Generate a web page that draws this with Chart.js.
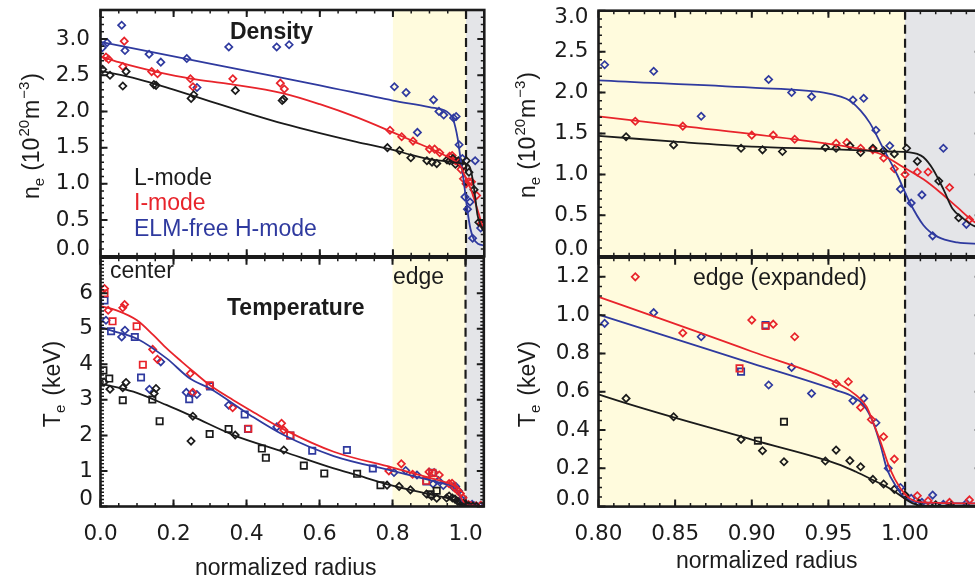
<!DOCTYPE html>
<html><head><meta charset="utf-8">
<script src="https://cdn.jsdelivr.net/npm/chart.js@4.4.1/dist/chart.umd.min.js"></script>
<style>
html,body{margin:0;padding:0;background:#fff;overflow:hidden;width:975px;height:579px;position:relative;}
canvas{position:absolute;}
</style></head><body>
<canvas id="tl" style="left:0px;top:0px;width:490px;height:262px" width="490" height="262"></canvas>
<canvas id="tr" style="left:490px;top:0px;width:500px;height:262px" width="500" height="262"></canvas>
<canvas id="bl" style="left:0px;top:250px;width:490px;height:329px" width="490" height="329"></canvas>
<canvas id="br" style="left:490px;top:250px;width:500px;height:329px" width="500" height="329"></canvas>
<script>
// ---------- DATA ----------
// Density, L-mode (black diamonds)
const denL_r = [0.006,0.026,0.061,0.070,0.146,0.152,0.248,0.255,0.369,0.497,0.501,0.785,0.818,0.849,0.893,0.907,0.920,0.948,0.955,0.964,0.971,0.979,0.986,0.993,1.001,1.008,1.022,1.035];
const denL_n = [2.58,2.50,2.35,2.55,2.37,2.36,2.18,2.23,2.29,2.15,2.17,1.50,1.46,1.36,1.32,1.30,1.28,1.33,1.32,1.35,1.27,1.32,1.29,1.25,1.32,1.16,0.92,0.47];
// Density, I-mode (red diamonds)
const denI_r = [0.015,0.022,0.061,0.065,0.140,0.156,0.246,0.253,0.362,0.492,0.503,0.792,0.824,0.855,0.900,0.914,0.928,0.955,0.962,0.971,0.979,0.986,0.993,1.000,1.008,1.015,1.029,1.042];
const denI_n = [2.75,2.72,2.62,2.97,2.55,2.52,2.45,2.34,2.45,2.39,2.31,1.74,1.65,1.59,1.48,1.48,1.43,1.38,1.39,1.32,1.30,1.20,1.07,1.00,1.03,1.03,0.84,0.45];
// Density, ELM-free H-mode (blue diamonds)
const denH_r = [0.005,0.018,0.058,0.067,0.133,0.165,0.236,0.264,0.351,0.482,0.516,0.804,0.836,0.867,0.911,0.926,0.939,0.966,0.973,0.981,0.990,0.997,1.004,1.011,1.018,1.025,1.040];
const denH_n = [2.88,2.95,3.19,2.84,2.79,2.68,2.73,2.33,2.89,2.89,2.92,2.34,2.26,1.71,2.16,2.00,1.95,1.91,1.93,1.54,1.35,0.82,0.65,0.75,0.25,1.32,0.39];
// Density fits
const denFitL_r = [0,0.1,0.2,0.3,0.4,0.5,0.6,0.7,0.8,0.85,0.9,0.95,0.99,1.003,1.008,1.012,1.018,1.025,1.031,1.038,1.044,1.05];
const denFitL_n = [2.56,2.45,2.30,2.14,1.98,1.83,1.70,1.58,1.47,1.40,1.34,1.31,1.28,1.27,1.25,1.21,1.07,0.82,0.58,0.46,0.38,0.34];
const denFitI_r = [0,0.05,0.1,0.15,0.25,0.35,0.5,0.6,0.7,0.8,0.855,0.927,0.968,0.984,0.997,1.012,1.023,1.034,1.046,1.05];
const denFitI_n = [2.76,2.68,2.61,2.55,2.45,2.38,2.25,2.10,1.92,1.71,1.59,1.43,1.32,1.25,1.11,0.94,0.78,0.60,0.41,0.38];
const denFitH_r = [0,0.2,0.4,0.6,0.8,0.9,0.947,0.958,0.964,0.971,0.977,0.986,0.995,1.003,1.012,1.021,1.034,1.05];
const denFitH_n = [2.96,2.76,2.56,2.36,2.15,2.06,2.00,1.95,1.90,1.78,1.63,1.31,0.99,0.66,0.38,0.24,0.17,0.15];

// Temperature, L-mode
const tL_r = [0.010,0.026,0.061,0.070,0.147,0.152,0.248,0.253,0.369,0.502,0.785,0.818,0.849,0.893,0.907,0.921,0.948,0.955,0.964,0.971,0.979,0.986,0.993,1.000,1.009,1.020,1.030];
const tL_T = [3.50,3.30,3.34,3.49,3.18,3.32,1.84,2.54,2.01,1.59,0.60,0.565,0.469,0.351,0.292,0.234,0.238,0.295,0.240,0.208,0.142,0.118,0.090,0.060,0.017,0.010,0.005];
const tLsq_r = [0.008,0.024,0.061,0.142,0.162,0.299,0.351,0.442,0.453,0.557,0.613,0.703,0.767,0.904,0.921];
const tLsq_T = [3.83,3.60,2.99,3.01,2.40,2.04,2.18,1.63,1.37,1.15,0.93,0.92,0.60,0.344,0.443];
// Temperature, I-mode
const tI_r = [0.011,0.021,0.061,0.066,0.143,0.156,0.246,0.253,0.362,0.496,0.502,0.790,0.824,0.855,0.900,0.914,0.928,0.955,0.963,0.971,0.978,0.986,0.993,1.000,1.008,1.015,1.029,1.042];
const tI_T = [6.13,5.52,5.59,5.68,4.42,4.14,3.74,3.21,2.78,2.34,2.15,1.00,1.20,0.907,0.974,0.953,0.887,0.643,0.652,0.518,0.455,0.365,0.248,0.057,0.057,0.030,0.022,0.035];
const tIsq_r = [0.011,0.033,0.099,0.116,0.299,0.405,0.520,0.892,0.909];
const tIsq_T = [6.00,5.21,5.07,3.99,3.41,2.19,2.00,0.722,0.943];
// Temperature, ELM-free H-mode
const tH_r = [0.015,0.058,0.067,0.134,0.165,0.235,0.250,0.264,0.351,0.483,0.804,0.836,0.867,0.911,0.926,0.939,0.966,0.973,0.981,0.989,0.997,1.004,1.011,1.018,1.025,1.040];
const tH_T = [5.24,4.77,4.96,3.30,4.07,3.21,3.18,3.15,2.85,2.24,0.957,1.013,0.887,0.635,0.727,0.591,0.553,0.565,0.438,0.200,0.100,0.043,0.022,0.060,0.012,0.017];
const tHsq_r = [0.011,0.029,0.094,0.111,0.243,0.300,0.395,0.404,0.520,0.580,0.675,0.746,0.893,0.909];
const tHsq_T = [5.80,4.93,4.77,3.63,3.02,3.38,2.59,2.18,2.00,1.57,1.59,1.07,0.705,0.948];
// Temperature fits
const tFitL_r = [0,0.09,0.182,0.255,0.364,0.502,0.639,0.703,0.8,0.9,0.958,0.968,0.979,0.99,0.998,1.005,1.012,1.05];
const tFitL_T = [3.46,3.23,2.85,2.52,2.01,1.54,1.07,0.88,0.586,0.35,0.217,0.182,0.139,0.095,0.052,0.017,0.005,0.005];
const tFitI_r = [0,0.044,0.1,0.145,0.182,0.223,0.255,0.3,0.364,0.41,0.502,0.639,0.8,0.9,0.958,0.968,0.975,0.979,0.984,0.99,0.997,1.003,1.012,1.05];
const tFitI_T = [5.64,5.52,5.24,4.82,4.44,4.07,3.79,3.41,2.99,2.71,2.17,1.54,1.095,0.81,0.635,0.582,0.52,0.443,0.339,0.2,0.095,0.043,0.022,0.017];
const tFitH_r = [0,0.026,0.1,0.182,0.245,0.3,0.41,0.502,0.639,0.8,0.9,0.955,0.966,0.973,0.979,0.984,0.988,0.995,1.0,1.009,1.05];
const tFitH_T = [5.05,4.96,4.72,4.16,3.60,3.32,2.57,2.01,1.42,1.003,0.748,0.608,0.574,0.53,0.443,0.321,0.2,0.095,0.043,0.022,0.017];

// Tick labels
const radTicks = [0.0,0.2,0.4,0.6,0.8,1.0];
const edgeRadTicks = [0.80,0.85,0.90,0.95,1.00];
const denTicks = [0.0,0.5,1.0,1.5,2.0,2.5,3.0];
const tempTicks = [0,1,2,3,4,5,6];
const edgeTempTicks = [0.0,0.2,0.4,0.6,0.8,1.0,1.2];

// ---------- STYLE ----------
const BLACK = '#1b1b1b', RED = '#e8242b', BLUE = '#2f3a9f';
const YELLOW = '#fffbdd', GREY = '#e4e5e8';
const TICKFONT = '21.5px "DejaVu Sans"';
const TEXTFONT = '23px "Liberation Sans", Arial, sans-serif';
const BOLDFONT = 'bold 23px "Liberation Sans", Arial, sans-serif';

function pts(xs, ys) { return xs.map((v, i) => ({x: v, y: ys[i]})); }
function diamonds(xs, ys, c) {
  return {data: pts(xs, ys), showLine: false, pointStyle: 'rectRot', pointRadius: 3.6,
    pointBorderWidth: 1.7, pointBorderColor: c, pointBackgroundColor: 'rgba(0,0,0,0)', borderColor: c};
}
function squares(xs, ys, c) {
  return {data: pts(xs, ys), showLine: false, pointStyle: 'rect', pointRadius: 4.5,
    pointBorderWidth: 1.7, pointBorderColor: c, pointBackgroundColor: 'rgba(0,0,0,0)', borderColor: c};
}
function fit(xs, ys, c) {
  return {data: pts(xs, ys), showLine: true, pointRadius: 0, borderColor: c, borderWidth: 1.8,
    cubicInterpolationMode: 'monotone', fill: false};
}

function drawRichVertical(ctx, parts, bx, cy) {
  ctx.save();
  ctx.translate(bx, cy);
  ctx.rotate(-Math.PI / 2);
  let total = 0;
  const w = parts.map(p => { ctx.font = p.font; const m = ctx.measureText(p.t).width + (p.gap || 0); total += m; return m; });
  let x = -total / 2;
  ctx.textBaseline = 'alphabetic'; ctx.textAlign = 'left'; ctx.fillStyle = BLACK;
  parts.forEach((p, i) => { ctx.font = p.font; ctx.fillText(p.t, x, p.dy || 0); x += w[i]; });
  ctx.restore();
}

const framePlugin = {
  id: 'frame',
  beforeDatasetsDraw(chart, args, o) {
    const {ctx, chartArea: a} = chart; const xs = chart.scales.x;
    ctx.save();
    o.bands.forEach(b => {
      const x0 = Math.max(a.left, xs.getPixelForValue(b.from));
      const x1 = Math.min(a.right, xs.getPixelForValue(b.to));
      ctx.fillStyle = b.color; ctx.fillRect(x0, a.top, x1 - x0, a.bottom - a.top);
    });
    const xd = xs.getPixelForValue(o.dashAt);
    ctx.strokeStyle = BLACK; ctx.lineWidth = 2.2; ctx.setLineDash([9, 5]);
    ctx.beginPath(); ctx.moveTo(xd, a.top); ctx.lineTo(xd, a.bottom); ctx.stroke();
    ctx.restore();
  },
  afterDraw(chart, args, o) {
    const {ctx, chartArea: a} = chart; const xs = chart.scales.x, ys = chart.scales.y;
    ctx.save();
    ctx.strokeStyle = BLACK; ctx.lineWidth = 1.5;
    const minor = (sc, step, horiz) => {
      const n = Math.round((sc.max - sc.min) / step);
      for (let i = 1; i < n; i++) {
        const v = sc.min + i * step; const p = sc.getPixelForValue(v);
        ctx.beginPath();
        if (horiz) { ctx.moveTo(p, a.bottom); ctx.lineTo(p, a.bottom - 3.5); ctx.moveTo(p, a.top); ctx.lineTo(p, a.top + 3.5); }
        else { ctx.moveTo(a.left, p); ctx.lineTo(a.left + 3.5, p); ctx.moveTo(a.right, p); ctx.lineTo(a.right - 3.5, p); }
        ctx.stroke();
      }
    };
    minor(xs, o.xMinor, true); minor(ys, o.yMinor, false);
    ctx.lineWidth = 2;
    xs.ticks.forEach(t => { const p = xs.getPixelForValue(t.value); ctx.beginPath(); ctx.moveTo(p, a.bottom); ctx.lineTo(p, a.bottom - 7); ctx.moveTo(p, a.top); ctx.lineTo(p, a.top + 7); ctx.stroke(); });
    ys.ticks.forEach(t => { const p = ys.getPixelForValue(t.value); ctx.beginPath(); ctx.moveTo(a.left, p); ctx.lineTo(a.left + 7, p); ctx.moveTo(a.right, p); ctx.lineTo(a.right - 7, p); ctx.stroke(); });
    ctx.lineWidth = 2.6; ctx.strokeRect(a.left, a.top, a.right - a.left, a.bottom - a.top);
    ctx.fillStyle = BLACK; ctx.font = TICKFONT;
    ctx.textAlign = 'right'; ctx.textBaseline = 'middle';
    ys.ticks.forEach(t => {
      let p = ys.getPixelForValue(t.value);
      p = Math.min(Math.max(p, a.top + 6.5), a.bottom - 7);
      ctx.fillText(t.value.toFixed(o.yDec), o.yLabelRight, p);
    });
    if (o.xLabels) {
      ctx.textAlign = 'center';
      xs.ticks.forEach(t => { ctx.fillText(t.value.toFixed(o.xDec), xs.getPixelForValue(t.value), o.xLabelY); });
    }
    (o.texts || []).forEach(s => {
      ctx.font = s.font; ctx.fillStyle = s.color || BLACK; ctx.textAlign = s.align || 'left'; ctx.textBaseline = 'alphabetic';
      ctx.fillText(s.t, s.x, s.y);
    });
    drawRichVertical(ctx, o.yTitle.parts, o.yTitle.bx, o.yTitle.cy);
    ctx.restore();
  }
};

const neTitle = [
  {t: 'n', font: '23px "Liberation Sans"'},
  {t: 'e', font: '15px "Liberation Sans"', dy: 5, gap: 7},
  {t: '(10', font: '23px "Liberation Sans"', gap: 1},
  {t: '20', font: '15px "Liberation Sans"', dy: -10, gap: 1},
  {t: 'm', font: '23px "Liberation Sans"', gap: 1},
  {t: '\u22123', font: '15px "Liberation Sans"', dy: -10, gap: 1},
  {t: ')', font: '23px "Liberation Sans"'}
];
const teTitle = [
  {t: 'T', font: '23px "Liberation Sans"'},
  {t: 'e', font: '15px "Liberation Sans"', dy: 5, gap: 9},
  {t: '(keV)', font: '23px "Liberation Sans"'}
];

function makeChart(id, cfg) {
  return new Chart(document.getElementById(id), {
    type: 'scatter',
    data: {datasets: cfg.datasets},
    options: {
      responsive: false, animation: false, events: [],
      layout: {padding: cfg.pad},
      plugins: {legend: {display: false}, tooltip: {enabled: false}, frame: cfg.frame},
      scales: {
        x: {type: 'linear', min: cfg.xmin, max: cfg.xmax, grid: {display: false}, border: {display: false},
            ticks: {display: false}, afterBuildTicks: s => { s.ticks = cfg.xTicks.map(v => ({value: v})); },
            afterFit: s => { s.height = cfg.xH; }},
        y: {type: 'linear', min: cfg.ymin, max: cfg.ymax, grid: {display: false}, border: {display: false},
            ticks: {display: false}, afterBuildTicks: s => { s.ticks = cfg.yTicks.map(v => ({value: v})); },
            afterFit: s => { s.width = cfg.yW; }}
      }
    },
    plugins: [framePlugin]
  });
}

const densitySets = () => [
  fit(denFitL_r, denFitL_n, BLACK), fit(denFitI_r, denFitI_n, RED), fit(denFitH_r, denFitH_n, BLUE),
  diamonds(denL_r, denL_n, BLACK), diamonds(denI_r, denI_n, RED), diamonds(denH_r, denH_n, BLUE)
];
const tempSets = () => [
  fit(tFitL_r, tFitL_T, BLACK), fit(tFitI_r, tFitI_T, RED), fit(tFitH_r, tFitH_T, BLUE),
  squares(tLsq_r, tLsq_T, BLACK), squares(tIsq_r, tIsq_T, RED), squares(tHsq_r, tHsq_T, BLUE),
  diamonds(tL_r, tL_T, BLACK), diamonds(tI_r, tI_T, RED), diamonds(tH_r, tH_T, BLUE)
];

makeChart('tl', {
  datasets: densitySets(), xmin: 0, xmax: 1.05, ymin: 0, ymax: 3.4,
  xTicks: radTicks, yTicks: denTicks, xH: 0, yW: 100.5,
  pad: {left: 0, right: 5.5, top: 10, bottom: 4.3},
  frame: {bands: [{from: 0.8, to: 1.0, color: YELLOW}, {from: 1.0, to: 1.05, color: GREY}], dashAt: 1.0,
    xMinor: 0.05, yMinor: 0.1, yDec: 1, yLabelRight: 90, xLabels: false,
    texts: [
      {t: 'Density', x: 271.5, y: 38.5, font: BOLDFONT, align: 'center'},
      {t: 'L-mode', x: 134, y: 185, font: TEXTFONT, color: BLACK},
      {t: 'I-mode', x: 134, y: 210, font: TEXTFONT, color: RED},
      {t: 'ELM-free H-mode', x: 134, y: 235.5, font: TEXTFONT, color: BLUE}
    ],
    yTitle: {parts: neTitle, bx: 38.5, cy: 136}}
});
makeChart('tr', {
  datasets: densitySets(), xmin: 0.8, xmax: 1.05, ymin: 0, ymax: 3.0,
  xTicks: edgeRadTicks, yTicks: denTicks, xH: 0, yW: 108.5,
  pad: {left: 0, right: 8.3, top: 10.7, bottom: 4.3},
  frame: {bands: [{from: 0.8, to: 1.0, color: YELLOW}, {from: 1.0, to: 1.05, color: GREY}], dashAt: 1.0,
    xMinor: 0.01, yMinor: 0.1, yDec: 1, yLabelRight: 98.5, xLabels: false,
    texts: [],
    yTitle: {parts: neTitle, bx: 45, cy: 135}}
});
makeChart('bl', {
  datasets: tempSets(), xmin: 0, xmax: 1.05, ymin: 0, ymax: 7,
  xTicks: radTicks, yTicks: tempTicks, xH: 72.5, yW: 100.5,
  pad: {left: 0, right: 5.5, top: 7.7, bottom: 0},
  frame: {bands: [{from: 0.8, to: 1.0, color: YELLOW}, {from: 1.0, to: 1.05, color: GREY}], dashAt: 1.0,
    xMinor: 0.05, yMinor: 0.1, yDec: 0, yLabelRight: 93, xLabels: true, xDec: 1, xLabelY: 284,
    texts: [
      {t: 'center', x: 110, y: 27.7, font: TEXTFONT},
      {t: 'edge', x: 393, y: 34, font: TEXTFONT},
      {t: 'Temperature', x: 227, y: 64.5, font: BOLDFONT},
      {t: 'normalized radius', x: 195, y: 324.5, font: TEXTFONT}
    ],
    yTitle: {parts: teTitle, bx: 60, cy: 134}}
});
makeChart('br', {
  datasets: tempSets(), xmin: 0.8, xmax: 1.05, ymin: 0, ymax: 1.3,
  xTicks: edgeRadTicks, yTicks: edgeTempTicks, xH: 72.4, yW: 108.5,
  pad: {left: 0, right: 8.3, top: 7.7, bottom: 0},
  frame: {bands: [{from: 0.8, to: 1.0, color: YELLOW}, {from: 1.0, to: 1.05, color: GREY}], dashAt: 1.0,
    xMinor: 0.01, yMinor: 0.05, yDec: 1, yLabelRight: 100, xLabels: true, xDec: 2, xLabelY: 284,
    texts: [
      {t: 'edge (expanded)', x: 203, y: 35, font: TEXTFONT},
      {t: 'normalized radius', x: 186, y: 318, font: TEXTFONT}
    ],
    yTitle: {parts: teTitle, bx: 45, cy: 134}}
});
</script>
</body></html>
